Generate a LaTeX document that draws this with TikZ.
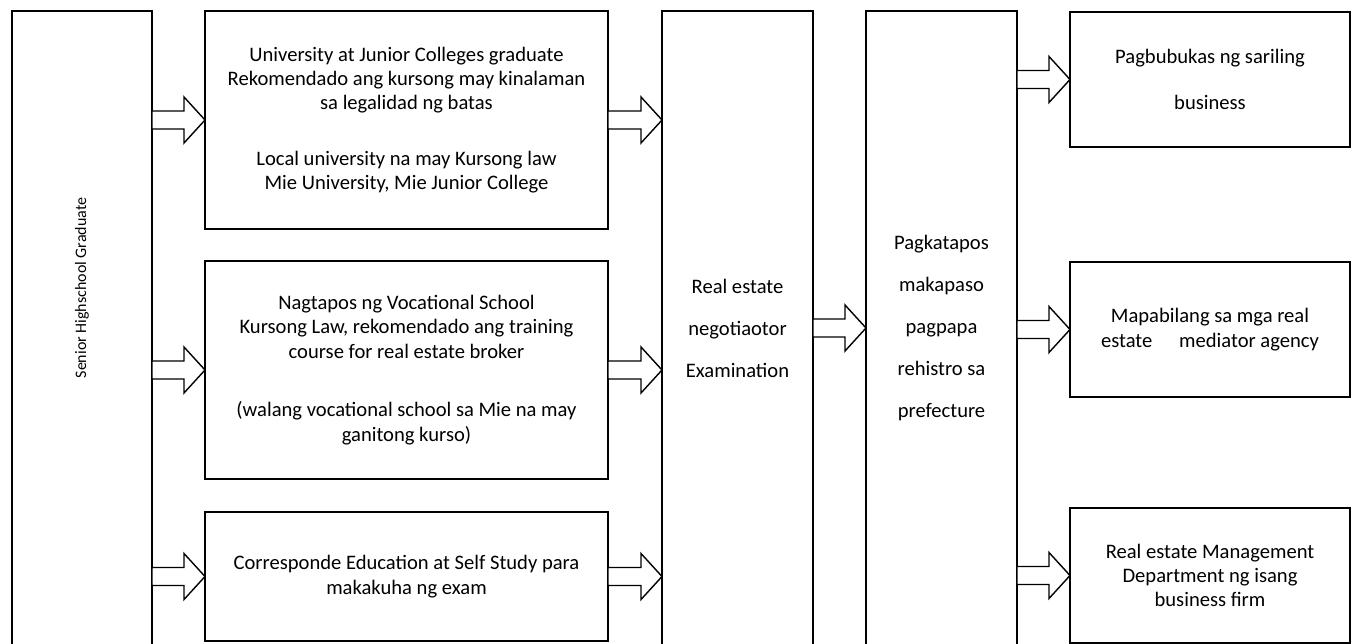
\documentclass[tikz,border=0pt]{standalone}
\usepackage{fontspec}
\setmainfont{Carlito}
\usetikzlibrary{positioning, calc}

\newcommand{\blockarrow}[2]{%
  \draw [hollow] ($(#2)+(-21,9)$) -- ($(#1)+(0,9)$) -- ($(#1)+(0,-9)$)
    -- ($(#2)+(-21,-9)$) -- ($(#2)+(-21,-23)$) -- (#2)
    -- ($(#2)+(-21,23)$) -- cycle;
}

\begin{document}
\begin{tikzpicture}[x=1pt, y=1pt, line width=1.4pt]

  \tikzstyle{txt}=[font=\fontsize{20.6}{24.4}\selectfont]
  \tikzstyle{box}=[txt, draw, align=center, inner sep=0pt, outer sep=0pt]
  \tikzstyle{tall}=[box, minimum height=634pt, font=\fontsize{20.6}{42}\selectfont]
  \tikzstyle{route}=[box, minimum width=403pt]
  \tikzstyle{goal}=[box, minimum width=280pt, minimum height=135pt]
  \tikzstyle{hollow}=[draw, fill=white]

  \clip (0,0) rectangle (1357,643);

  \node [tall, minimum width=140pt,
    label={[font=\fontsize{16}{19}\selectfont, rotate=90, xshift=40pt]center:Senior Highschool Graduate}] (senior) at (82,315) {};

  \node [route, minimum height=218pt, right = 53pt of senior.north east, anchor=north west] (uni) {
    University at Junior Colleges graduate \\
    Rekomendado ang kursong may kinalaman \\
    sa legalidad ng batas \\[31pt]
    Local university na may Kursong law \\
    Mie University, Mie Junior College
  };
  \node [route, minimum height=218pt, below = 32pt of uni] (voc) {
    Nagtapos ng Vocational School \\
    Kursong Law, rekomendado ang training \\
    course for real estate broker \\[34pt]
    (walang vocational school sa Mie na may \\
    ganitong kurso)
  };
  \node [route, minimum height=129pt, below = 33pt of voc] (self) {
    Corresponde Education at Self Study para \\
    makakuha ng exam
  };

  \node [tall, minimum width=151pt, right = 54pt of uni.north east, anchor=north west] (exam) {
    Real estate \\ negotiaotor \\ Examination
  };
  \node [tall, minimum width=151pt, right = 53pt of exam.north east, anchor=north west] (reg) {
    Pagkatapos \\ makapaso \\ pagpapa \\ rehistro sa \\ prefecture
  };

  \node [goal, right = 53pt of reg.north east, anchor=north west, yshift=-1pt] (own) {
    Pagbubukas ng sariling \\[21pt] business
  };
  \node [goal, below = 115pt of own] (agency) {
    Mapabilang sa mga real \\
    estate\hspace{1.3em}mediator agency
  };
  \node [goal, below = 111pt of agency] (firm) {
    Real estate Management \\
    Department ng isang \\
    business firm
  };

  \blockarrow{senior.east |- uni.west}{uni.west}
  \blockarrow{senior.east |- voc.west}{voc.west}
  \blockarrow{senior.east |- self.west}{self.west}

  \blockarrow{uni.east}{uni.east -| exam.west}
  \blockarrow{voc.east}{voc.east -| exam.west}
  \blockarrow{self.east}{self.east -| exam.west}

  \blockarrow{exam.east}{exam.east -| reg.west}

  \blockarrow{reg.east |- own.west}{own.west}
  \blockarrow{reg.east |- agency.west}{agency.west}
  \blockarrow{reg.east |- firm.west}{firm.west}
\end{tikzpicture}
\end{document}
